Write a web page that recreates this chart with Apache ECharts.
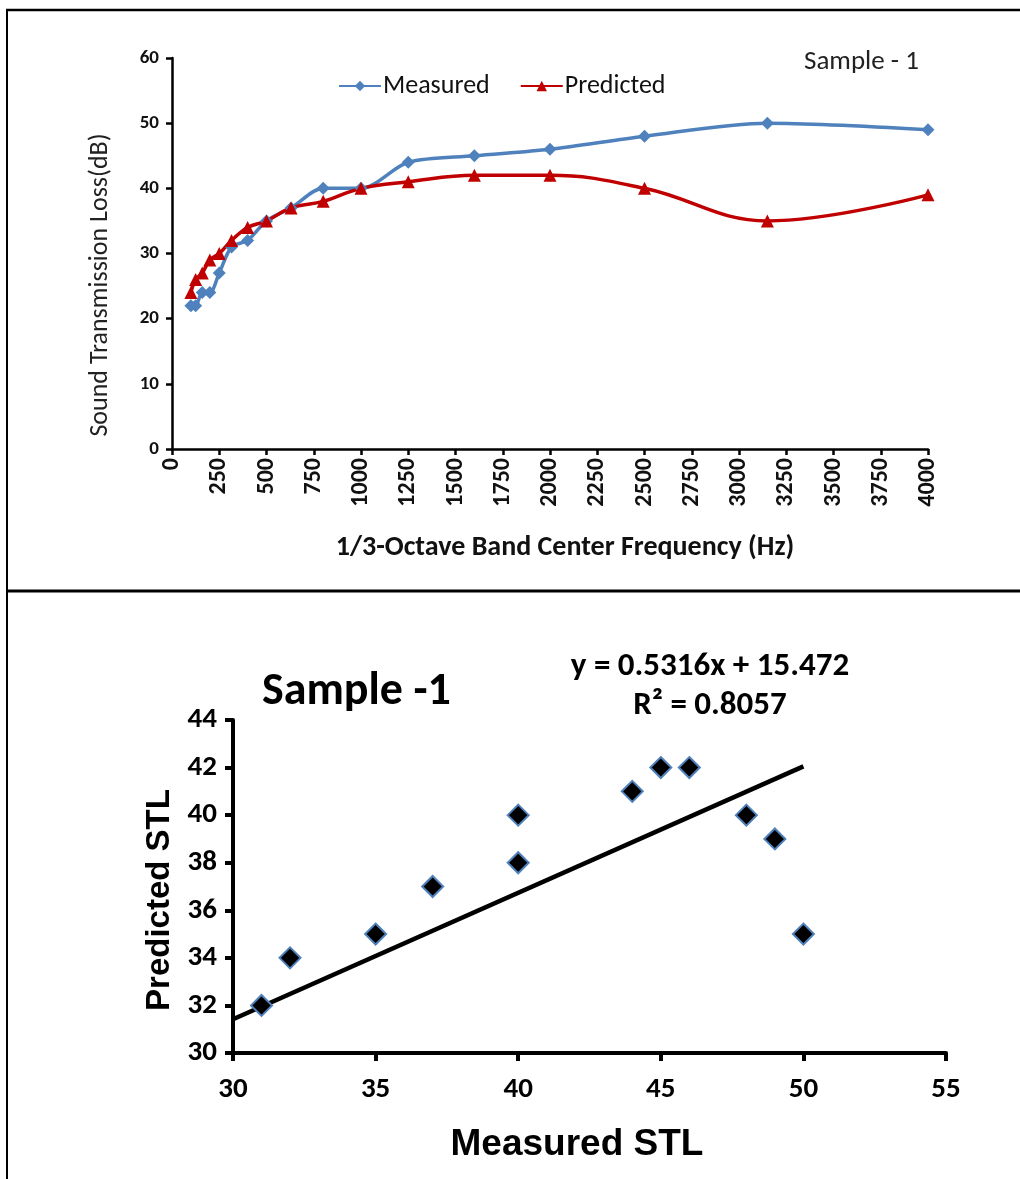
<!DOCTYPE html>
<html>
<head>
<meta charset="utf-8">
<script src="https://cdn.jsdelivr.net/npm/echarts@6/dist/echarts.min.js"></script>
<style>
html,body{margin:0;padding:0;background:#fff;}
#c{width:1020px;height:1179px;}
</style>
</head>
<body>
<div id="c"></div>
<script>
// ---- Data ----
var frequencies = [100,125,160,200,250,315,400,500,630,800,1000,1250,1600,2000,2500,3150,4000];
var measuredSTL = [22,22,24,24,27,31,32,35,37,40,40,44,45,46,48,50,49];
var predictedSTL = [24,26,27,29,30,32,34,35,37,38,40,41,42,42,40,35,39];
// scatter pairs (measured, predicted) for 315..4000 Hz
var scatterMeasured = [31,32,35,37,40,40,44,45,46,48,50,49];
var scatterPredicted = [32,34,35,37,38,40,41,42,42,40,35,39];
// trend line end points (from y = 0.5316x + 15.472)
var trendX = [30,50];
var trendY = [31.42,42.05];
var equationText = 'y = 0.5316x + 15.472';
var r2Text = 'R² = 0.8057';

var F = 'Carlito, Lato, sans-serif';
var FN = '"Liberation Sans Narrow", Arial, sans-serif';
var blue = '#4F81BD', red = '#C00000';

function pairs(xs, ys){ return xs.map(function(x,i){return [x, ys[i]];}); }

var chart = echarts.init(document.getElementById('c'), null, {renderer:'canvas'});
var axisLine = {show:true, lineStyle:{color:'#000', width:2.5}};
var axisTick = {show:true, inside:false, length:6, lineStyle:{color:'#000', width:2.5}};

chart.setOption({
  backgroundColor:'#fff',
  animation:false,
  legend:{
    data:['Measured','Predicted'],
    left:333, top:68, itemWidth:42, itemHeight:13, itemGap:30,
    textStyle:{fontFamily:F, fontSize:26, color:'#111', fontWeight:'normal', padding:[0,0,0,-3]}
  },
  title:[
    {text:'Sample - 1', left:799, top:44, textStyle:{fontFamily:F, fontSize:27, fontWeight:'normal', color:'#222'}},
    {text:'Sample -1', left:257, top:664, textStyle:{fontFamily:F, fontSize:46, fontWeight:'bold', color:'#000'}},
    {text:equationText, left:705, top:645, textAlign:'center', textStyle:{fontFamily:F, fontSize:33, fontWeight:'bold', color:'#000'}},
    {text:r2Text, left:705, top:684, textAlign:'center', textStyle:{fontFamily:F, fontSize:33, fontWeight:'bold', color:'#000'}}
  ],
  graphic:[
    {type:'line', shape:{x1:6,y1:10,x2:1020,y2:10}, style:{stroke:'#000', lineWidth:2.5}},
    {type:'line', shape:{x1:7,y1:10,x2:7,y2:1179}, style:{stroke:'#000', lineWidth:2}},
    {type:'line', shape:{x1:6,y1:591,x2:1020,y2:591}, style:{stroke:'#000', lineWidth:3}},
    {type:'text', x:100, y:285, rotation:Math.PI/2,
     style:{text:'Sound Transmission Loss(dB)', fontFamily:F, fontSize:26, fill:'#222', align:'center', verticalAlign:'middle'}},
    {type:'text', x:565, y:548,
     style:{text:'1/3-Octave Band Center Frequency (Hz)', fontFamily:F, fontSize:28, fontWeight:'bold', fill:'#111', align:'center', verticalAlign:'middle'}},
    {type:'text', x:577, y:1145,
     style:{text:'Measured STL', fontFamily:FN, fontSize:37, fontWeight:'bold', fill:'#000', align:'center', verticalAlign:'middle'}},
    {type:'text', x:160, y:900, rotation:Math.PI/2,
     style:{text:'Predicted STL', fontFamily:FN, fontSize:33, fontWeight:'bold', fill:'#000', align:'center', verticalAlign:'middle'}}
  ],
  grid:[
    {left:172, right:92, top:58, bottom:730},
    {left:233, right:74, top:720, bottom:126}
  ],
  xAxis:[
    {gridIndex:0, type:'value', min:0, max:4000, interval:250,
     axisLine:axisLine, axisTick:axisTick, splitLine:{show:false},
     axisLabel:{rotate:90, fontFamily:F, fontSize:24, fontWeight:'bold', color:'#111', margin:9,
       formatter:function(v){return String(v);}}},
    {gridIndex:1, type:'value', min:30, max:55, interval:5,
     axisLine:{show:true, lineStyle:{color:'#000', width:4}},
     axisTick:{show:true, length:8, lineStyle:{color:'#000', width:4}}, splitLine:{show:false},
     axisLabel:{fontFamily:F, fontSize:29, fontWeight:'bold', color:'#000', margin:22}}
  ],
  yAxis:[
    {gridIndex:0, type:'value', min:0, max:60, interval:10,
     axisLine:axisLine, axisTick:axisTick, splitLine:{show:false},
     axisLabel:{fontFamily:F, fontSize:19, fontWeight:'bold', color:'#111', margin:13}},
    {gridIndex:1, type:'value', min:30, max:44, interval:2,
     axisLine:{show:true, lineStyle:{color:'#000', width:4}},
     axisTick:{show:true, length:8, lineStyle:{color:'#000', width:4}}, splitLine:{show:false},
     axisLabel:{fontFamily:F, fontSize:29, fontWeight:'bold', color:'#000', margin:16}}
  ],
  series:[
    {name:'Measured', type:'line', xAxisIndex:0, yAxisIndex:0, data:pairs(frequencies, measuredSTL),
     smooth:0.3, symbol:'diamond', symbolSize:13,
     lineStyle:{color:blue, width:3.5}, itemStyle:{color:blue}},
    {name:'Predicted', type:'line', xAxisIndex:0, yAxisIndex:0, data:pairs(frequencies, predictedSTL),
     smooth:0.4, symbol:'triangle', symbolSize:13,
     lineStyle:{color:red, width:3.5}, itemStyle:{color:red}},
    {name:'Trend', type:'line', xAxisIndex:1, yAxisIndex:1, data:pairs(trendX, trendY),
     symbol:'none', lineStyle:{color:'#000', width:4.5}, z:2},
    {name:'Scatter', type:'scatter', xAxisIndex:1, yAxisIndex:1, data:pairs(scatterMeasured, scatterPredicted),
     symbol:'diamond', symbolSize:21, itemStyle:{color:'#000', opacity:1, borderColor:blue, borderWidth:2}, z:3}
  ]
});
</script>
</body>
</html>
